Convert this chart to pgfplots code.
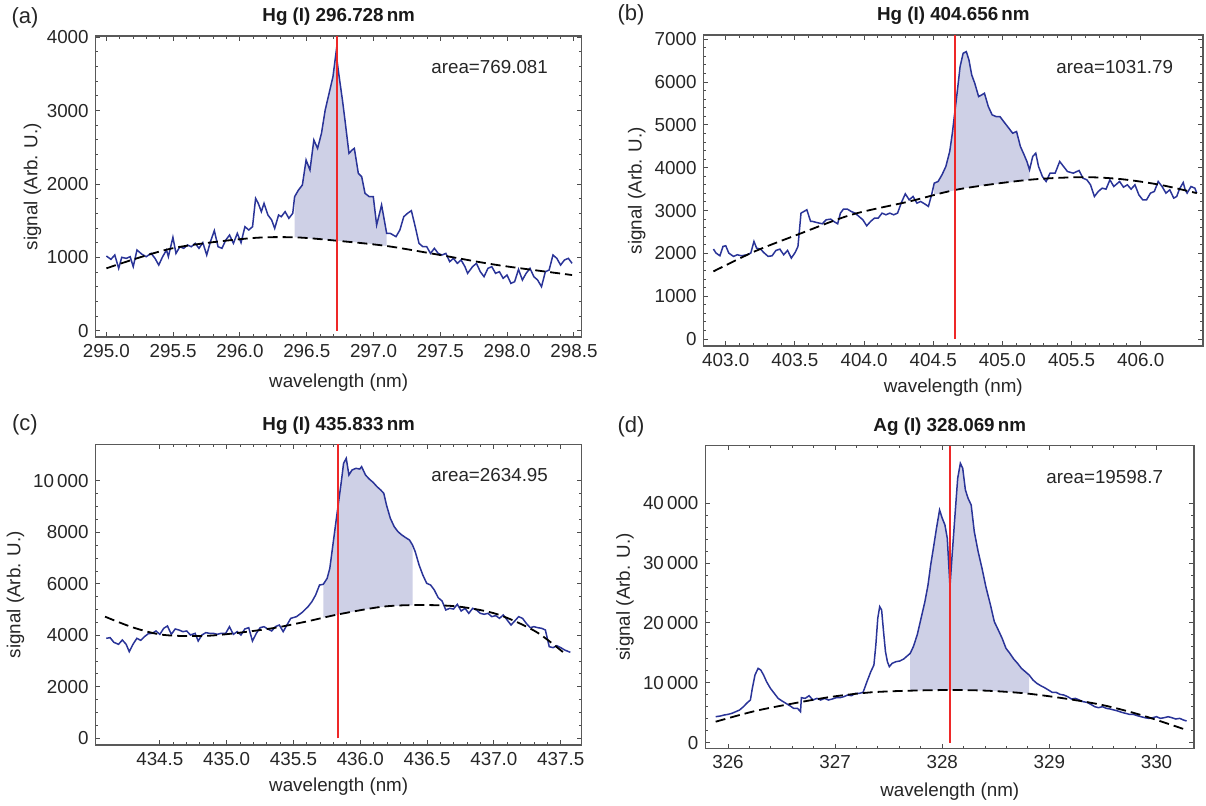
\documentclass[border=0pt]{standalone}
\usepackage{pgfplots}
\pgfplotsset{compat=1.18}
\usepackage{pgfplotstable}
\usepackage{fontspec}
\setmainfont{Liberation Sans}

\definecolor{sigc}{RGB}{42,52,152}
\definecolor{areac}{RGB}{206,208,230}
\definecolor{redl}{RGB}{238,40,40}
\newcommand\fs{\fontsize{9.4}{11}\selectfont}

% panel (a): Hg I 296.728 nm
\pgfplotstableread[row sep=\\]{x y\\
295.000 1018\\ 295.034 973\\ 295.063 1032\\ 295.092 850\\ 295.115 1000\\ 295.149 986\\ 295.178 1009\\ 295.201 873\\
295.229 1100\\ 295.264 1045\\ 295.298 1009\\ 295.335 1054\\ 295.364 986\\ 295.392 895\\ 295.421 1009\\ 295.450 1100\\
295.464 1009\\ 295.498 1273\\ 295.521 1054\\ 295.550 1145\\ 295.579 1123\\ 295.607 1168\\ 295.636 1145\\ 295.665 1191\\
295.693 1123\\ 295.722 1200\\ 295.751 1032\\ 295.779 1214\\ 295.808 1364\\ 295.836 1145\\ 295.865 1123\\ 295.894 1236\\
295.922 1304\\ 295.951 1191\\ 295.980 1327\\ 296.008 1200\\ 296.037 1418\\ 296.066 1373\\ 296.094 1418\\ 296.117 1804\\
296.137 1736\\ 296.160 1623\\ 296.180 1736\\ 296.209 1577\\ 296.237 1509\\ 296.260 1395\\ 296.289 1577\\ 296.309 1554\\
296.338 1623\\ 296.366 1532\\ 296.395 1600\\ 296.409 1827\\ 296.438 1918\\ 296.467 1986\\ 296.495 2327\\ 296.524 2191\\
296.553 2600\\ 296.581 2486\\ 296.610 2691\\ 296.638 3009\\ 296.667 3236\\ 296.696 3463\\ 296.719 3791\\ 296.739 3509\\
296.767 3145\\ 296.786 2871\\ 296.816 2418\\ 296.839 2463\\ 296.856 2486\\ 296.886 2145\\ 296.911 2100\\ 296.936 1873\\
296.968 1827\\ 296.998 1827\\ 297.023 1441\\ 297.060 1714\\ 297.098 1328\\ 297.125 1327\\ 297.168 1282\\ 297.197 1373\\
297.226 1554\\ 297.254 1600\\ 297.283 1636\\ 297.312 1418\\ 297.340 1191\\ 297.369 1145\\ 297.398 1145\\ 297.426 1054\\
297.455 1123\\ 297.484 1054\\ 297.512 1032\\ 297.541 1054\\ 297.570 941\\ 297.598 986\\ 297.627 918\\ 297.655 964\\
297.684 873\\ 297.704 782\\ 297.741 873\\ 297.770 918\\ 297.799 804\\ 297.827 736\\ 297.856 850\\ 297.885 873\\
297.913 782\\ 297.942 804\\ 297.970 714\\ 297.999 759\\ 298.028 645\\ 298.056 668\\ 298.085 836\\ 298.114 691\\
298.142 782\\ 298.171 850\\ 298.200 736\\ 298.228 691\\ 298.257 600\\ 298.286 804\\ 298.314 827\\ 298.343 1032\\
298.372 986\\ 298.400 895\\ 298.429 964\\ 298.458 986\\ 298.486 918\\
}\sigA
\pgfplotstableread[row sep=\\]{x y\\
295.000 850\\ 295.493 1123\\ 296.066 1259\\ 296.409 1273\\ 296.724 1227\\ 297.097 1155\\ 297.498 1032\\ 297.927 895\\ 298.486 759\\
}\baseA
% shaded region: signal over the window, then the baseline back
\pgfplotstableread[row sep=\\]{x y\\
296.409 1827\\ 296.438 1918\\ 296.467 1986\\ 296.495 2327\\ 296.524 2191\\ 296.553 2600\\ 296.581 2486\\ 296.610 2691\\
296.638 3009\\ 296.667 3236\\ 296.696 3463\\ 296.719 3791\\ 296.739 3509\\ 296.767 3145\\ 296.786 2871\\ 296.816 2418\\
296.839 2463\\ 296.856 2486\\ 296.886 2145\\ 296.911 2100\\ 296.936 1873\\ 296.968 1827\\ 296.998 1827\\ 297.023 1441\\
297.060 1714\\ 297.098 1328\\ 297.098 1155\\ 296.950 1192\\ 296.800 1215\\ 296.600 1248\\ 296.409 1273\\
}\areaA

% panel (b): Hg I 404.656 nm
\pgfplotstableread[row sep=\\]{x y\\
402.911 2100\\ 402.930 2007\\ 402.958 1944\\ 402.980 2162\\ 403.000 2178\\ 403.022 2007\\ 403.056 1929\\ 403.084 1968\\
403.112 1944\\ 403.154 1968\\ 403.181 2007\\ 403.204 2279\\ 403.223 2123\\ 403.251 2100\\ 403.279 2007\\ 403.307 1929\\
403.335 1944\\ 403.363 2069\\ 403.391 2100\\ 403.419 1968\\ 403.447 2069\\ 403.474 1890\\ 403.502 2022\\ 403.522 2162\\
403.544 2940\\ 403.586 3018\\ 403.614 2746\\ 403.628 2746\\ 403.656 2722\\ 403.698 2691\\ 403.726 2785\\ 403.759 2800\\
403.781 2746\\ 403.809 2691\\ 403.829 2940\\ 403.851 3034\\ 403.879 3034\\ 403.907 2979\\ 403.935 2940\\ 403.963 2862\\
403.991 2785\\ 404.019 2644\\ 404.047 2746\\ 404.075 2823\\ 404.102 2823\\ 404.130 2940\\ 404.158 2901\\ 404.186 2940\\
404.214 2901\\ 404.242 2940\\ 404.270 3189\\ 404.298 3391\\ 404.326 3251\\ 404.354 3329\\ 404.382 3173\\ 404.409 3212\\
404.437 3158\\ 404.465 3096\\ 404.488 3368\\ 404.507 3640\\ 404.535 3679\\ 404.563 3834\\ 404.591 4029\\ 404.619 4379\\
404.638 4807\\ 404.655 5273\\ 404.675 5818\\ 404.694 6362\\ 404.716 6673\\ 404.739 6712\\ 404.758 6518\\ 404.778 6168\\
404.800 5973\\ 404.828 5662\\ 404.850 5701\\ 404.870 5740\\ 404.898 5429\\ 404.926 5234\\ 404.954 5196\\ 404.982 5196\\
405.009 5079\\ 405.037 4963\\ 405.074 4807\\ 405.102 4846\\ 405.130 4496\\ 405.157 4301\\ 405.177 4146\\ 405.196 3951\\
405.219 4263\\ 405.241 4340\\ 405.261 4029\\ 405.289 3796\\ 405.316 3679\\ 405.344 3873\\ 405.381 3873\\ 405.414 4146\\
405.442 4029\\ 405.470 3912\\ 405.512 3873\\ 405.554 3936\\ 405.582 3757\\ 405.610 3718\\ 405.637 3601\\ 405.665 3329\\
405.693 3446\\ 405.721 3523\\ 405.749 3500\\ 405.777 3718\\ 405.805 3562\\ 405.847 3679\\ 405.875 3547\\ 405.903 3601\\
405.930 3500\\ 405.958 3601\\ 405.986 3368\\ 406.014 3251\\ 406.042 3251\\ 406.070 3407\\ 406.098 3446\\ 406.126 3679\\
406.154 3562\\ 406.182 3407\\ 406.210 3485\\ 406.238 3290\\ 406.260 3329\\ 406.279 3500\\ 406.307 3655\\ 406.321 3485\\
406.335 3407\\ 406.363 3562\\ 406.391 3523\\ 406.405 3407\\
}\sigB
\pgfplotstableread[row sep=\\]{x y\\
402.911 1579\\ 403.209 2046\\ 403.516 2434\\ 403.907 2901\\ 404.326 3212\\ 404.689 3500\\ 405.191 3718\\ 405.582 3780\\
405.861 3733\\ 406.140 3601\\ 406.405 3407\\
}\baseB
\pgfplotstableread[row sep=\\]{x y\\
404.507 3640\\ 404.535 3679\\ 404.563 3834\\ 404.591 4029\\ 404.619 4379\\ 404.638 4807\\ 404.655 5273\\ 404.675 5818\\
404.694 6362\\ 404.716 6673\\ 404.739 6712\\ 404.758 6518\\ 404.778 6168\\ 404.800 5973\\ 404.828 5662\\ 404.850 5701\\
404.870 5740\\ 404.898 5429\\ 404.926 5234\\ 404.954 5196\\ 404.982 5196\\ 405.009 5079\\ 405.037 4963\\ 405.074 4807\\
405.102 4846\\ 405.130 4496\\ 405.157 4301\\ 405.177 4146\\ 405.196 3951\\ 405.196 3718\\ 405.000 3635\\ 404.800 3565\\
404.650 3470\\ 404.507 3370\\
}\areaB

% panel (c): Hg I 435.833 nm
\pgfplotstableread[row sep=\\]{x y\\
434.099 3886\\ 434.128 3912\\ 434.156 3730\\ 434.191 3653\\ 434.219 3821\\ 434.248 3653\\ 434.271 3368\\ 434.299 3653\\
434.328 3886\\ 434.357 3808\\ 434.385 3951\\ 434.414 4067\\ 434.443 4080\\ 434.471 4171\\ 434.500 4041\\ 434.529 4275\\
434.557 4365\\ 434.586 4041\\ 434.615 4249\\ 434.643 4210\\ 434.672 4145\\ 434.701 4171\\ 434.729 4015\\ 434.764 4080\\
434.787 3782\\ 434.815 4015\\ 434.844 4106\\ 434.872 4080\\ 434.901 4080\\ 434.930 4041\\ 434.958 4080\\ 434.993 4080\\
435.021 4339\\ 435.050 4041\\ 435.079 4145\\ 435.107 4015\\ 435.136 4249\\ 435.165 4300\\ 435.193 3782\\ 435.222 4080\\
435.251 4300\\ 435.279 4339\\ 435.308 4249\\ 435.337 4171\\ 435.365 4339\\ 435.394 4404\\ 435.423 4145\\ 435.451 4404\\
435.480 4663\\ 435.523 4728\\ 435.566 4896\\ 435.609 5116\\ 435.638 5311\\ 435.666 5570\\ 435.695 5958\\ 435.723 5984\\
435.752 6217\\ 435.772 6606\\ 435.795 7513\\ 435.818 8419\\ 435.838 9197\\ 435.858 9974\\ 435.875 10686\\ 435.895 10881\\
435.915 10233\\ 435.938 10427\\ 435.967 10492\\ 435.996 10466\\ 436.010 10557\\ 436.039 10233\\ 436.067 10077\\ 436.096 9948\\
436.125 9780\\ 436.153 9650\\ 436.176 9521\\ 436.196 9068\\ 436.225 8549\\ 436.254 8225\\ 436.282 8031\\ 436.311 7901\\
436.340 7798\\ 436.368 7707\\ 436.391 7513\\ 436.411 7254\\ 436.440 6736\\ 436.468 6347\\ 436.497 6023\\ 436.526 5958\\
436.554 5764\\ 436.583 5466\\ 436.612 5337\\ 436.640 4987\\ 436.669 5051\\ 436.698 5025\\ 436.726 5207\\ 436.755 4948\\
436.784 5051\\ 436.812 4857\\ 436.841 5051\\ 436.870 4987\\ 436.898 4857\\ 436.927 4819\\ 436.956 4857\\ 436.984 4728\\
437.013 4767\\ 437.042 4663\\ 437.070 4793\\ 437.099 4598\\ 437.128 4404\\ 437.156 4559\\ 437.185 4728\\ 437.214 4663\\
437.242 4469\\ 437.272 4300\\ 437.299 4339\\ 437.328 4300\\ 437.357 4275\\ 437.385 4210\\ 437.414 3562\\ 437.443 3523\\
437.471 3601\\ 437.500 3523\\ 437.529 3433\\ 437.572 3342\\
}\sigC
\pgfplotstableread[row sep=\\]{x y\\
434.090 4728\\ 434.304 4300\\ 434.534 4015\\ 434.877 3990\\ 435.307 4249\\ 435.593 4534\\ 435.838 4819\\ 436.168 5116\\
436.454 5181\\ 436.741 5116\\ 437.027 4819\\ 437.314 4145\\ 437.543 3238\\
}\baseC
\pgfplotstableread[row sep=\\]{x y\\
435.723 5984\\ 435.752 6217\\ 435.772 6606\\ 435.795 7513\\ 435.818 8419\\ 435.838 9197\\ 435.858 9974\\ 435.875 10686\\
435.895 10881\\ 435.915 10233\\ 435.938 10427\\ 435.967 10492\\ 435.996 10466\\ 436.010 10557\\ 436.039 10233\\ 436.067 10077\\
436.096 9948\\ 436.125 9780\\ 436.153 9650\\ 436.176 9521\\ 436.196 9068\\ 436.225 8549\\ 436.254 8225\\ 436.282 8031\\
436.311 7901\\ 436.340 7798\\ 436.368 7707\\ 436.391 7513\\ 436.391 5170\\ 436.200 5135\\ 436.000 4975\\ 435.838 4819\\
435.723 4690\\
}\areaC

% panel (d): Ag I 328.069 nm
\pgfplotstableread[row sep=\\]{x y\\
325.885 4345\\ 325.928 4457\\ 325.964 4624\\ 326.000 4735\\ 326.036 4903\\ 326.072 5181\\ 326.108 5460\\ 326.144 6017\\
326.180 6685\\ 326.209 7131\\ 326.227 9081\\ 326.252 11309\\ 326.281 12423\\ 326.306 12145\\ 326.332 11309\\ 326.360 10195\\
326.396 9081\\ 326.432 8245\\ 326.468 7409\\ 326.505 6964\\ 326.541 6574\\ 326.577 6184\\ 326.613 5738\\ 326.649 5738\\
326.677 5181\\ 326.685 7521\\ 326.721 7409\\ 326.757 7855\\ 326.793 7131\\ 326.829 7409\\ 326.865 7131\\ 326.901 7409\\
326.937 7131\\ 326.973 7298\\ 327.009 7521\\ 327.045 7521\\ 327.081 7688\\ 327.117 7966\\ 327.153 7855\\ 327.189 8245\\
327.225 8245\\ 327.261 8412\\ 327.297 10195\\ 327.333 11866\\ 327.362 12980\\ 327.380 16323\\ 327.398 20780\\ 327.416 22730\\
327.434 22173\\ 327.452 18551\\ 327.470 15209\\ 327.488 13538\\ 327.506 12702\\ 327.532 13259\\ 327.568 13538\\ 327.604 13650\\
327.640 13983\\ 327.676 14540\\ 327.701 14930\\ 327.730 16044\\ 327.766 17994\\ 327.802 20780\\ 327.838 23565\\ 327.867 26351\\
327.892 29694\\ 327.917 32479\\ 327.946 35822\\ 327.975 38886\\ 328.000 37493\\ 328.025 36379\\ 328.047 34150\\ 328.072 26072\\
328.090 30808\\ 328.119 38050\\ 328.144 44179\\ 328.169 46685\\ 328.191 45849\\ 328.216 42228\\ 328.241 40835\\ 328.270 39721\\
328.299 35265\\ 328.335 31922\\ 328.371 29136\\ 328.407 26072\\ 328.450 23008\\ 328.486 20223\\ 328.523 18830\\ 328.559 17437\\
328.595 15766\\ 328.631 14930\\ 328.667 13983\\ 328.703 13259\\ 328.739 12423\\ 328.775 11866\\ 328.811 11309\\ 328.847 10474\\
328.883 9916\\ 328.919 9526\\ 328.955 9192\\ 328.991 8802\\ 329.027 8412\\ 329.063 8412\\ 329.099 8078\\ 329.135 7966\\
329.171 7688\\ 329.207 7298\\ 329.243 7409\\ 329.279 7131\\ 329.315 6852\\ 329.351 6741\\ 329.387 6407\\ 329.423 6017\\
329.459 5850\\ 329.495 6017\\ 329.532 5738\\ 329.568 5627\\ 329.604 5460\\ 329.640 5292\\ 329.676 5070\\ 329.712 4903\\
329.748 4735\\ 329.784 4735\\ 329.820 4513\\ 329.856 4345\\ 329.892 4178\\ 329.928 4067\\ 329.964 4178\\ 330.000 4345\\
330.036 4067\\ 330.072 4178\\ 330.108 4345\\ 330.144 4178\\ 330.180 3955\\ 330.216 4067\\ 330.252 3788\\ 330.281 3621\\
}\sigD
\pgfplotstableread[row sep=\\]{x y\\
325.885 3510\\ 326.252 5292\\ 326.613 6574\\ 326.973 7688\\ 327.333 8412\\ 327.694 8691\\ 328.072 8802\\ 328.414 8691\\
328.775 8245\\ 329.135 7409\\ 329.495 6295\\ 329.856 4624\\ 330.281 2117\\
}\baseD
\pgfplotstableread[row sep=\\]{x y\\
327.701 14930\\ 327.730 16044\\ 327.766 17994\\ 327.802 20780\\ 327.838 23565\\ 327.867 26351\\ 327.892 29694\\ 327.917 32479\\
327.946 35822\\ 327.975 38886\\ 328.000 37493\\ 328.025 36379\\ 328.047 34150\\ 328.072 26072\\ 328.090 30808\\ 328.119 38050\\
328.144 44179\\ 328.169 46685\\ 328.191 45849\\ 328.216 42228\\ 328.241 40835\\ 328.270 39721\\ 328.299 35265\\ 328.335 31922\\
328.371 29136\\ 328.407 26072\\ 328.450 23008\\ 328.486 20223\\ 328.523 18830\\ 328.559 17437\\ 328.595 15766\\ 328.631 14930\\
328.667 13983\\ 328.703 13259\\ 328.739 12423\\ 328.775 11866\\ 328.811 11309\\ 328.811 8220\\ 328.600 8500\\ 328.414 8691\\
328.200 8780\\ 328.072 8802\\ 327.900 8760\\ 327.701 8691\\
}\areaD

\pgfplotsset{
  panel/.style={
    scale only axis, anchor=south west,
    axis line style={black!65, line width=0.6pt},
    tick style={black!70, line width=0.5pt},
    major tick length=2.4pt, minor tick length=1.4pt,
    tick align=inside, scaled ticks=false,
    tick label style={font=\fs, text=black!85},
    label style={font=\fs, text=black!85},
    title style={font=\bfseries\fs, text=black!90, at={(0.5,1)}, anchor=center, yshift=3.5pt},
    /pgf/number format/assume math mode=true,
    /pgf/number format/1000 sep={\,},
    /pgf/number format/min exponent for 1000 sep=4,
    x tick label style={/pgf/number format/.cd, fixed, fixed zerofill, precision=1, /tikz/.cd},
    xlabel={wavelength (nm)}, ylabel={signal (Arb. U.)},
  },
  sig/.style={sigc, line width=0.75pt},
  base/.style={black, line width=0.9pt, dash pattern=on 5pt off 2.5pt, smooth},
  peakline/.style={draw=redl, line width=0.85pt},
  shade/.style={fill=areac, draw=none},
}
\tikzset{areatext/.style={anchor=east, font=\fs, text=black!85},
  plabel/.style={font=\fontsize{11}{13}\selectfont, text=black!85}}

\begin{document}
\begin{tikzpicture}
\path[use as bounding box] (0,0) rectangle (603pt,402.5pt);

% (a)
\begin{axis}[panel, at={(47.85pt,234pt)}, width=243pt, height=150.5pt,
  xmin=294.92, xmax=298.558, ymin=-86, ymax=4018,
  xtick={295,295.5,...,298.5}, ytick={0,1000,...,4000},
  minor x tick num=4, minor y tick num=4,
  title={Hg (I) 296.728\,nm},
  xlabel style={at={(axis description cs:0.5,-0.15)}, anchor=center},
  ylabel style={at={(axis description cs:-0.13,0.5)}, anchor=center}]
\addplot[shade] table {\areaA};
\addplot[sig] table {\sigA};
\addplot[base] table {\baseA};
\addplot[peakline] coordinates {(296.728,0) (296.728,4018)};
\node[areatext] at (rel axis cs:0.945,0.897) {area=769.081};
\end{axis}

% (b)
\begin{axis}[panel, at={(351.8pt,229.5pt)}, width=249.7pt, height=155.5pt,
  xmin=402.84, xmax=406.45, ymin=-163, ymax=7100,
  xtick={403,403.5,...,406}, ytick={0,1000,...,7000},
  minor x tick num=4, minor y tick num=4,
  title={Hg (I) 404.656\,nm},
  xlabel style={at={(axis description cs:0.5,-0.135)}, anchor=center},
  ylabel style={at={(axis description cs:-0.134,0.5)}, anchor=center}]
\addplot[shade] table {\areaB};
\addplot[sig] table {\sigB};
\addplot[base] table {\baseB};
\addplot[peakline] coordinates {(404.656,0) (404.656,7100)};
\node[areatext] at (rel axis cs:0.954,0.897) {area=1031.79};
\end{axis}

% (c)
\begin{axis}[panel, at={(47.85pt,30pt)}, width=243pt, height=150.35pt,
  xmin=434.02, xmax=437.657, ymin=-260, ymax=11426,
  xtick={434.5,435,...,437.5}, ytick={0,2000,...,10000},
  minor x tick num=4, minor y tick num=3,
  title={Hg (I) 435.833\,nm},
  xlabel style={at={(axis description cs:0.5,-0.14)}, anchor=center},
  ylabel style={at={(axis description cs:-0.165,0.5)}, anchor=center}]
\addplot[shade] table {\areaC};
\addplot[sig] table {\sigC};
\addplot[base] table {\baseC};
\addplot[peakline] coordinates {(435.833,0) (435.833,11426)};
\node[areatext] at (rel axis cs:0.945,0.898) {area=2634.95};
\end{axis}

% (d)
\begin{axis}[panel, at={(352.75pt,28.35pt)}, width=244.25pt, height=151.3pt,
  xmin=325.79, xmax=330.35, ymin=-936, ymax=49624,
  xtick={326,327,...,330}, ytick={0,10000,...,40000},
  x tick label style={/pgf/number format/.cd, precision=0, /tikz/.cd},
  minor x tick num=4, minor y tick num=4,
  title={Ag (I) 328.069\,nm},
  xlabel style={at={(axis description cs:0.5,-0.144)}, anchor=center},
  ylabel style={at={(axis description cs:-0.165,0.5)}, anchor=center}]
\addplot[shade] table {\areaD};
\addplot[sig] table {\sigD};
\addplot[base] table {\baseD};
\addplot[peakline] coordinates {(328.069,0) (328.069,49624)};
\node[areatext] at (rel axis cs:0.951,0.898) {area=19598.7};
\end{axis}

\node[plabel] at (12.5pt,393.5pt) {(a)};
\node[plabel] at (315.5pt,395pt) {(b)};
\node[plabel] at (12.5pt,190pt) {(c)};
\node[plabel] at (315.5pt,189pt) {(d)};
\end{tikzpicture}
\end{document}
